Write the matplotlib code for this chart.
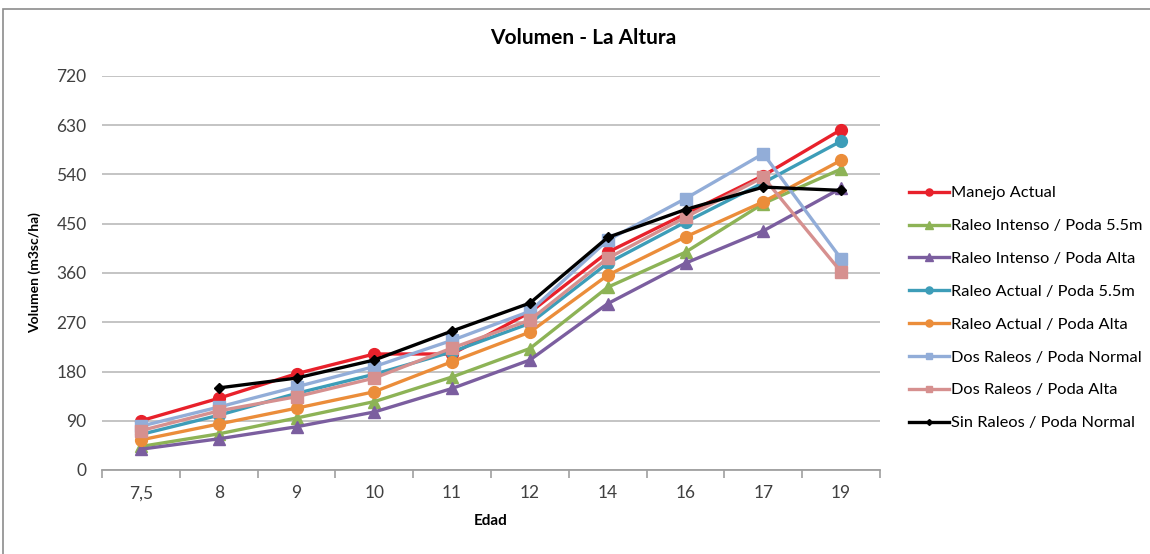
import numpy as np
import matplotlib
matplotlib.use("Agg")
import matplotlib.pyplot as plt
from matplotlib.patches import Rectangle

plt.rcParams['font.family'] = ['Lato', 'DejaVu Sans']

edad = ['7,5', '8', '9', '10', '11', '12', '14', '16', '17', '19']

manejo_actual      = [90, 131, 176, 212, 212, 288, 398, 468, 538, 622]
raleo_int_55       = [43, 66, 95, 125, 170, 222, 334, 398, 487, 550]
raleo_int_alta     = [38, 57, 79, 106, 149, 201, 304, 378, 437, 515]
raleo_act_55       = [65, 100, 140, 175, 216, 268, 378, 453, 525, 601]
raleo_act_alta     = [55, 84, 113, 143, 198, 252, 356, 426, 490, 566]
dos_raleos_normal  = [80, 115, 152, 189, 237, 290, 420, 496, 578, 386]
dos_raleos_alta    = [72, 108, 134, 168, 223, 274, 387, 462, 535, 362]
sin_raleos_normal  = [np.nan, 150, 168, 201, 254, 305, 425, 476, 517, 511]

series = [
    ("Manejo Actual", manejo_actual, '#E8212B', 'o', 8.5),
    ("Raleo Intenso / Poda 5.5m", raleo_int_55, '#8DB356', '^', 8.5),
    ("Raleo Intenso / Poda Alta", raleo_int_alta, '#7B5E9F', '^', 8.5),
    ("Raleo Actual / Poda 5.5m", raleo_act_55, '#3D9DB8', 'o', 8.5),
    ("Raleo Actual / Poda Alta", raleo_act_alta, '#EB8D3A', 'o', 8.5),
    ("Dos Raleos / Poda Normal", dos_raleos_normal, '#92ADD8', 's', 8.0),
    ("Dos Raleos / Poda Alta", dos_raleos_alta, '#D6908F', 's', 8.0),
    ("Sin Raleos / Poda Normal", sin_raleos_normal, '#000000', 'D', 5.0),
]

W, H = 1150, 554
fig = plt.figure(figsize=(W/100, H/100), dpi=100)
fig.patch.set_facecolor('white')

# outer chart frame
fig.patches.append(Rectangle((3/W, -0.05), 1.2, 1 - 9/H + 0.05, transform=fig.transFigure,
                             fill=False, edgecolor='#8c8c8c', linewidth=1.2))

ax = fig.add_axes([102/W, 1 - 470/H, (880-102)/W, (470-76)/H])
x = np.arange(len(edad))
for name, vals, col, mk, ms in series:
    ax.plot(x, vals, color=col, marker=mk, markersize=ms, linewidth=2.4,
            markeredgecolor=col, label=name)

ax.set_xlim(-0.5, len(edad) - 0.5)
ax.set_ylim(0, 720)
ax.set_yticks(np.arange(0, 721, 90))
ax.set_yticklabels([str(v) for v in range(0, 721, 90)], fontsize=12.5, color='#404040')
ax.set_xticks(x)
ax.set_xticklabels(edad, fontsize=12.5, color='#404040')
ax.set_xticks(np.arange(-0.5, len(edad), 1), minor=True)
ax.tick_params(axis='x', which='major', length=0, pad=11)
ax.tick_params(axis='x', which='minor', length=6, color='#a0a0a0', width=1.2)
ax.tick_params(axis='y', length=0, pad=11)
ax.grid(axis='y', color='#bfbfbf', linewidth=1.3)
ax.set_axisbelow(True)
for s in ['top', 'right', 'left']:
    ax.spines[s].set_visible(False)
ax.spines['bottom'].set_color('#a0a0a0')
ax.spines['bottom'].set_linewidth(1.3)

ax.set_xlabel('Edad', fontsize=11, fontweight='bold', labelpad=9)
ax.set_ylabel('Volumen (m3sc/ha)', fontsize=10, fontweight='bold', labelpad=11)
fig.text(583/W, 1 - 38/H, 'Volumen - La Altura', ha='center', va='center',
         fontsize=15, fontweight='bold')

leg = fig.legend(loc='upper left', bbox_to_anchor=(909/W, 1 - 186/H), frameon=False,
                 fontsize=11.8, labelspacing=1.12, handlelength=2.45, handletextpad=0.1,
                 borderpad=0, borderaxespad=0, markerscale=0.6)

fig.savefig('out.png', dpi=100)
